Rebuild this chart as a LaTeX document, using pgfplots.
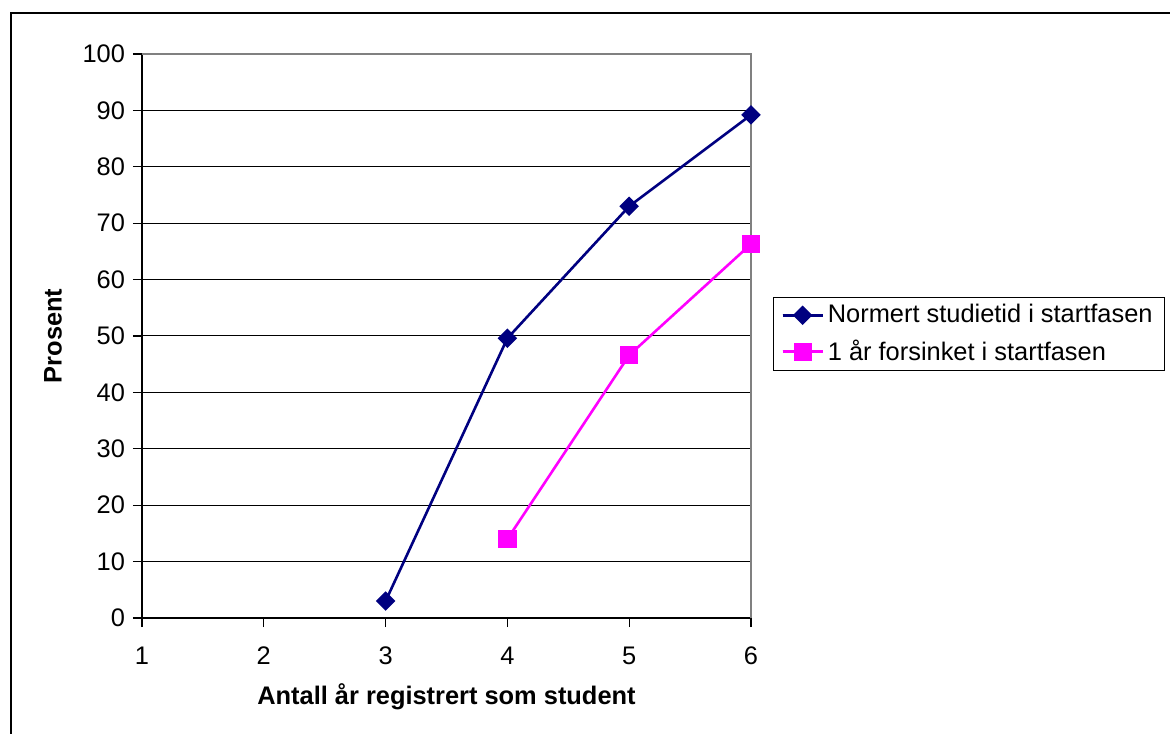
\documentclass[border=0pt]{standalone}
\usepackage{pgfplots}
\pgfplotsset{compat=1.18}
\usepackage{fontspec}
\setmainfont{Liberation Sans}
\definecolor{navyc}{RGB}{0,0,128}
\definecolor{magc}{RGB}{255,0,255}
\begin{document}
\begin{tikzpicture}[x=1pt,y=1pt]
% bounding box: 1 px = 0.5 pt, axis origin at px (142,618)
\path[use as bounding box] (-71,-57.5) rectangle (514,309);
\draw[line width=1.1pt,line cap=rect] (-65.4,-60) -- (-65.4,302.6) -- (520,302.6);
\begin{axis}[
  at={(0,0)}, anchor=south west,
  scale only axis,
  width=304.5pt, height=282pt,
  xmin=1, xmax=6, ymin=0, ymax=100,
  xtick={1,2,3,4,5,6},
  ytick={0,10,...,100},
  axis x line*=bottom,
  axis y line*=left,
  axis line style={black, line width=0.6pt, -},
  tick align=outside,
  major tick length=4.5pt,
  tick style={black, line width=0.6pt},
  ymajorgrids,
  grid style={black, line width=0.5pt},
  tick label style={font=\fontsize{12.7}{15}\selectfont},
  /pgf/number format/assume math mode=true,
  yticklabel style={xshift=-0.5pt},
  xticklabel style={yshift=-6.5pt},
  xlabel={\textbf{Antall år registrert som student}},
  ylabel={\textbf{Prosent}},
  label style={font=\fontsize{12.7}{15}\selectfont},
  xlabel style={at={(axis description cs:0.5,-0.140)}, anchor=center},
  ylabel style={at={(axis description cs:-0.146,0.5)}, anchor=center, rotate=0},
  legend style={
    at={(axis description cs:1.036,0.569)}, anchor=north west,
    draw=black, line width=0.5pt,
    font=\fontsize{12.7}{15}\selectfont,
    inner xsep=4pt, inner ysep=1.5pt,
    row sep=3pt,
    cells={anchor=west},
  },
  legend image post style={line width=1.3pt},
  legend image code/.code={
    \draw[#1] (0cm,0cm) -- (0.7cm,0cm);
    \draw[#1,mark repeat=2,mark phase=2] plot coordinates {(0cm,0cm) (0.35cm,0cm) (0.7cm,0cm)};
  },
  clip=false,
]
\addplot[navyc, line width=1.3pt, mark=square*, mark size=2.8pt,
  mark options={rotate=45, solid, fill=navyc}]
  coordinates {(3,3.0) (4,49.6) (5,73.0) (6,89.2)};
\addlegendentry{Normert studietid i startfasen}
\addplot[magc, line width=1.3pt, mark=square*, mark size=3.9pt,
  mark options={solid, fill=magc}]
  coordinates {(4,14.0) (5,46.6) (6,66.3)};
\addlegendentry{1 år forsinket i startfasen}
\draw[gray, line width=0.6pt] (axis cs:1,100) -- (axis cs:6,100) -- (axis cs:6,0);
\end{axis}
\end{tikzpicture}
\end{document}
